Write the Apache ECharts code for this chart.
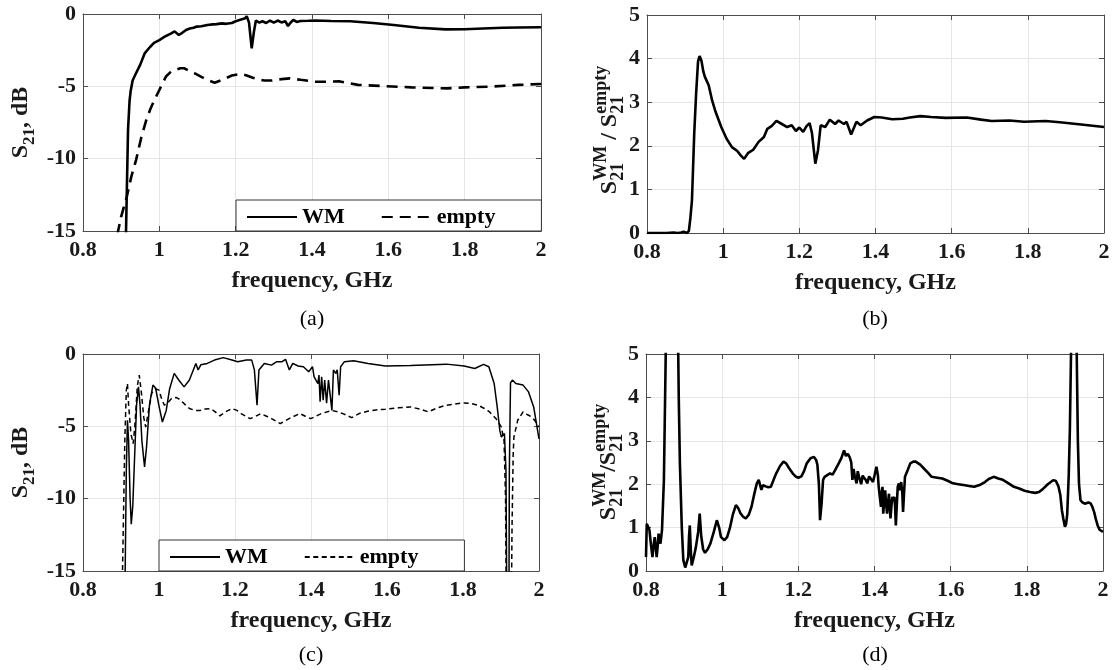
<!DOCTYPE html>
<html><head><meta charset="utf-8">
<script src="https://cdn.jsdelivr.net/npm/echarts@6/dist/echarts.min.js"></script>
<style>html,body{margin:0;padding:0;background:#fff}#c{width:1113px;height:670px}</style>
</head><body><div id="c"></div>
<script>
// ---------------- DATA ----------------
const freqTicks = [0.8, 1, 1.2, 1.4, 1.6, 1.8, 2];
const legendNames = ['WM', 'empty'];
const captions = ['(a)', '(b)', '(c)', '(d)'];

// (a) S21 measured, waveguide with metamaterial (WM) and empty
const fA_WM = [0.8,0.905,0.912,0.915,0.918,0.922,0.925,0.93,0.937,0.95,0.962,0.975,0.986,1.0,1.014,1.03,1.04,1.051,1.06,1.07,1.08,1.09,1.098,1.11,1.126,1.14,1.15,1.164,1.175,1.19,1.2,1.21,1.215,1.225,1.229,1.235,1.242,1.248,1.253,1.262,1.27,1.28,1.29,1.3,1.31,1.32,1.33,1.337,1.344,1.351,1.36,1.37,1.39,1.41,1.45,1.5,1.56,1.614,1.68,1.75,1.8,1.848,1.9,1.941,2.0];
const sA_WM = [-40,-28,-16,-12,-8,-6,-5.3,-4.6,-4.2,-3.5,-2.7,-2.3,-2.0,-1.8,-1.57,-1.35,-1.2,-1.45,-1.3,-1.1,-1.0,-0.95,-0.87,-0.85,-0.76,-0.72,-0.7,-0.65,-0.68,-0.62,-0.5,-0.42,-0.55,-0.3,-0.15,-0.6,-2.37,-1.2,-0.45,-0.6,-0.5,-0.62,-0.45,-0.6,-0.45,-0.58,-0.5,-0.83,-0.6,-0.4,-0.55,-0.48,-0.47,-0.45,-0.48,-0.5,-0.62,-0.76,-0.95,-1.06,-1.05,-1.0,-0.95,-0.93,-0.92];
const fA_E = [0.8,0.88,0.892,0.9,0.915,0.927,0.939,0.953,0.965,0.976,0.988,1.0,1.01,1.018,1.03,1.042,1.055,1.065,1.08,1.093,1.11,1.126,1.145,1.16,1.173,1.19,1.201,1.215,1.229,1.245,1.257,1.275,1.295,1.32,1.342,1.37,1.408,1.44,1.473,1.52,1.586,1.661,1.72,1.754,1.8,1.867,1.941,2.0];
const sA_E = [-30,-18,-15,-14,-12.6,-11.2,-10.1,-8.5,-7.4,-6.6,-5.9,-5.25,-4.7,-4.3,-4.0,-3.87,-3.75,-3.75,-3.95,-4.1,-4.35,-4.56,-4.75,-4.6,-4.45,-4.25,-4.2,-4.15,-4.25,-4.4,-4.5,-4.6,-4.6,-4.5,-4.45,-4.55,-4.68,-4.68,-4.66,-4.9,-4.98,-5.07,-5.12,-5.14,-5.07,-5.02,-4.9,-4.84];

// (b) ratio S21(WM)/S21(empty)
const fB = [0.8,0.85,0.87,0.873,0.88,0.89,0.896,0.905,0.91,0.914,0.918,0.921,0.924,0.929,0.934,0.938,0.943,0.948,0.952,0.962,0.971,0.98,0.995,1.009,1.023,1.037,1.046,1.055,1.065,1.079,1.093,1.107,1.116,1.127,1.14,1.154,1.168,1.18,1.191,1.2,1.21,1.219,1.227,1.233,1.242,1.249,1.256,1.268,1.28,1.294,1.303,1.317,1.324,1.336,1.35,1.361,1.378,1.397,1.416,1.444,1.472,1.49,1.518,1.546,1.584,1.64,1.677,1.705,1.752,1.79,1.846,1.884,1.94,2.0];
const rB = [0,0,0.01,0.03,0,0.01,0.03,0,0.05,0.35,0.74,1.5,2.28,3.2,3.93,4.06,3.95,3.7,3.58,3.39,3.04,2.78,2.43,2.16,1.97,1.88,1.78,1.70,1.83,1.91,2.09,2.2,2.39,2.45,2.57,2.5,2.43,2.47,2.34,2.42,2.32,2.45,2.52,2.3,1.59,1.9,2.47,2.43,2.6,2.5,2.58,2.5,2.55,2.26,2.55,2.47,2.58,2.66,2.65,2.61,2.62,2.65,2.68,2.66,2.64,2.65,2.6,2.57,2.58,2.55,2.57,2.54,2.49,2.43];

// (c) S21 simulated, WM and empty
const fC_WM = [0.8,0.905,0.911,0.914,0.917,0.92,0.924,0.927,0.931,0.936,0.941,0.946,0.95,0.955,0.962,0.967,0.975,0.984,0.991,1.0,1.009,1.019,1.028,1.04,1.052,1.066,1.08,1.097,1.103,1.11,1.127,1.146,1.169,1.192,1.207,1.23,1.244,1.251,1.258,1.263,1.277,1.296,1.31,1.324,1.333,1.343,1.352,1.366,1.38,1.394,1.404,1.408,1.418,1.421,1.424,1.428,1.432,1.436,1.441,1.446,1.451,1.455,1.459,1.465,1.469,1.474,1.478,1.488,1.512,1.55,1.596,1.662,1.756,1.803,1.831,1.854,1.868,1.882,1.89,1.897,1.901,1.909,1.913,1.916,1.92,1.922,1.925,1.93,1.939,1.958,1.972,1.986,2.0];
const sC_WM = [-40,-25,-15,-8,-4.58,-6,-10,-11.76,-10.5,-7,-3.5,-2.27,-3.5,-6,-7.8,-6.5,-3.5,-2.15,-2.35,-3.6,-4.7,-3.9,-2.4,-1.34,-1.8,-2.27,-1.8,-0.65,-1.1,-0.75,-0.65,-0.42,-0.25,-0.42,-0.53,-0.42,-0.42,-1.1,-3.54,-1.1,-0.65,-0.77,-0.53,-0.53,-0.37,-1.1,-0.65,-0.83,-0.88,-1.23,-0.88,-1.57,-2.04,-1.46,-3.3,-1.57,-3.2,-1.8,-3.4,-1.8,-2.96,-3.9,-1.1,-1.34,-1.1,-2.85,-0.88,-0.53,-0.46,-0.65,-0.83,-0.79,-0.7,-0.83,-1.0,-0.72,-0.88,-2.04,-3.66,-5.3,-5.74,-5.5,-8,-20,-25,-8,-2.0,-1.8,-2.04,-2.15,-2.6,-3.66,-5.86];
const fC_E = [0.8,0.9,0.904,0.91,0.914,0.917,0.92,0.926,0.932,0.937,0.943,0.948,0.953,0.96,0.965,0.972,0.981,0.99,1.0,1.007,1.014,1.022,1.033,1.045,1.052,1.065,1.08,1.095,1.108,1.122,1.136,1.148,1.16,1.175,1.192,1.205,1.216,1.24,1.255,1.268,1.283,1.296,1.319,1.333,1.347,1.371,1.385,1.399,1.413,1.427,1.455,1.47,1.484,1.507,1.528,1.549,1.575,1.596,1.63,1.662,1.685,1.709,1.73,1.756,1.78,1.803,1.82,1.84,1.855,1.868,1.887,1.901,1.908,1.912,1.915,1.925,1.929,1.932,1.934,1.944,1.958,1.97,1.981,1.992,2.0];
const sC_E = [-40,-22,-15,-6,-2.5,-2.04,-3.5,-5.5,-6.2,-4.8,-2.2,-1.46,-2.5,-4.4,-5.05,-4.0,-2.7,-2.4,-2.5,-3.1,-3.54,-3.4,-3.08,-3.0,-3.1,-3.4,-3.77,-3.9,-3.9,-3.8,-3.77,-4.0,-4.28,-4.0,-3.77,-3.9,-4.12,-4.47,-4.3,-4.12,-4.3,-4.47,-4.81,-4.6,-4.4,-4.12,-4.3,-4.47,-4.3,-4.12,-3.9,-4.0,-4.12,-4.4,-4.1,-3.96,-3.85,-3.82,-3.72,-3.66,-3.8,-4.0,-3.75,-3.54,-3.45,-3.38,-3.42,-3.54,-3.75,-3.96,-4.47,-5.05,-6.0,-10,-22,-25,-12,-7,-5.74,-4.58,-4.0,-4.2,-4.35,-4.7,-5.05];

// (d) simulated ratio
const fD = [0.8,0.802,0.806,0.809,0.813,0.817,0.82,0.823,0.826,0.828,0.831,0.833,0.836,0.838,0.842,0.847,0.851,0.855,0.87,0.882,0.886,0.889,0.894,0.898,0.903,0.907,0.911,0.913,0.915,0.918,0.92,0.925,0.931,0.937,0.941,0.945,0.95,0.955,0.962,0.969,0.978,0.986,0.992,0.997,1.006,1.013,1.02,1.028,1.036,1.042,1.048,1.055,1.062,1.07,1.077,1.085,1.091,1.096,1.1,1.103,1.107,1.114,1.121,1.128,1.135,1.142,1.152,1.161,1.168,1.175,1.185,1.194,1.2,1.208,1.215,1.222,1.232,1.241,1.247,1.25,1.254,1.257,1.261,1.265,1.269,1.283,1.29,1.297,1.306,1.313,1.32,1.325,1.33,1.335,1.339,1.342,1.345,1.348,1.353,1.356,1.36,1.365,1.369,1.372,1.377,1.381,1.386,1.391,1.396,1.4,1.405,1.409,1.411,1.414,1.417,1.419,1.421,1.423,1.426,1.428,1.431,1.433,1.436,1.438,1.442,1.445,1.447,1.45,1.452,1.454,1.456,1.459,1.461,1.464,1.466,1.468,1.47,1.473,1.475,1.477,1.48,1.487,1.494,1.502,1.508,1.52,1.531,1.542,1.55,1.565,1.578,1.592,1.606,1.62,1.634,1.648,1.662,1.676,1.69,1.7,1.713,1.725,1.737,1.75,1.766,1.78,1.794,1.808,1.822,1.832,1.841,1.855,1.869,1.876,1.883,1.888,1.892,1.896,1.9,1.903,1.906,1.91,1.913,1.916,1.92,1.927,1.931,1.934,1.937,1.941,1.946,1.952,1.962,1.968,1.972,1.977,1.981,1.986,1.991,2.0];
const rD = [0.32,1.09,1.05,0.95,0.6,0.32,0.6,0.78,0.5,0.32,0.6,0.86,0.7,0.63,0.94,2.09,4.5,7,12,7,4.0,2.48,1.0,0.25,0.08,0.2,0.32,0.8,1.05,0.4,0.13,0.3,0.55,0.9,1.32,0.8,0.5,0.42,0.5,0.63,0.9,1.17,1.0,0.78,0.71,0.78,0.98,1.3,1.52,1.45,1.33,1.25,1.21,1.3,1.48,1.8,2.02,2.1,2.13,1.87,1.98,1.95,1.93,1.94,2.1,2.25,2.42,2.52,2.48,2.38,2.25,2.17,2.15,2.18,2.3,2.48,2.6,2.63,2.55,2.45,2.0,1.17,1.55,2.1,2.17,2.25,2.22,2.33,2.48,2.6,2.78,2.65,2.7,2.62,2.5,2.1,2.35,2.2,2.02,2.3,2.15,2.0,2.2,2.15,2.1,2.02,2.18,2.15,2.05,2.2,2.4,2.2,1.94,1.9,1.48,1.8,1.94,1.32,1.7,1.86,1.5,1.32,1.6,1.78,1.21,1.55,1.71,1.6,1.71,1.5,1.05,1.6,1.94,2.02,1.86,1.94,2.05,1.8,1.36,1.7,2.17,2.32,2.48,2.52,2.52,2.45,2.35,2.25,2.17,2.15,2.13,2.08,2.02,2.0,1.98,1.96,1.94,1.98,2.05,2.12,2.17,2.13,2.1,2.03,1.94,1.9,1.85,1.82,1.8,1.82,1.88,2.0,2.09,2.08,1.95,1.75,1.4,1.2,1.02,1.08,1.3,2.2,3.25,5.0,10,10,5,3.0,2.0,1.63,1.58,1.55,1.58,1.55,1.48,1.35,1.2,1.05,0.95,0.9];

// ---------------- LAYOUT / STYLE ----------------
const zip = (xs, ys) => xs.map((x, i) => [x, ys[i]]);
const SERIF = '"Liberation Serif", "Times New Roman", serif';
const AX = '#4d4d4d', TXT = '#1a1a1a', GRIDC = '#e6e6e6';
const grids = [
  {left: 83, top: 14, width: 458, height: 217},
  {left: 647, top: 15, width: 457, height: 218},
  {left: 83, top: 354, width: 456, height: 217},
  {left: 646, top: 354, width: 457, height: 217}
];
const yRanges = [[-15, 0, 5], [0, 5, 1], [-15, 0, 5], [0, 5, 1]];

const xAxes = [], yAxes = [];
grids.forEach((g, gi) => {
  xAxes.push({
    type: 'value', gridIndex: gi, min: freqTicks[0], max: freqTicks[freqTicks.length - 1], interval: 0.2,
    axisLine: {show: true, onZero: false, lineStyle: {color: AX, width: 1}},
    axisTick: {show: true, inside: true, length: 5, lineStyle: {color: AX}},
    axisLabel: {fontFamily: SERIF, fontWeight: 'bold', fontSize: 22, color: TXT, margin: 8,
      formatter: v => String(parseFloat(v.toFixed(1)))},
    splitLine: {show: true, lineStyle: {color: GRIDC, width: 1}},
    name: 'frequency, GHz', nameLocation: 'middle', nameGap: 38,
    nameTextStyle: {fontFamily: SERIF, fontWeight: 'bold', fontSize: 24, color: TXT}
  });
  xAxes.push({
    type: 'value', gridIndex: gi, position: 'top', min: freqTicks[0], max: freqTicks[freqTicks.length - 1], interval: 0.2,
    axisLine: {show: true, onZero: false, lineStyle: {color: AX, width: 1}},
    axisTick: {show: true, inside: true, length: 5, lineStyle: {color: AX}},
    axisLabel: {show: false}, splitLine: {show: false}
  });
  const [mn, mx, it] = yRanges[gi];
  yAxes.push({
    type: 'value', gridIndex: gi, min: mn, max: mx, interval: it,
    axisLine: {show: true, onZero: false, lineStyle: {color: AX, width: 1}},
    axisTick: {show: true, inside: true, length: 5, lineStyle: {color: AX}},
    axisLabel: {fontFamily: SERIF, fontWeight: 'bold', fontSize: 22, color: TXT, margin: 7},
    splitLine: {show: true, lineStyle: {color: GRIDC, width: 1}}
  });
  yAxes.push({
    type: 'value', gridIndex: gi, position: 'right', min: mn, max: mx, interval: it,
    axisLine: {show: true, onZero: false, lineStyle: {color: AX, width: 1}},
    axisTick: {show: true, inside: true, length: 5, lineStyle: {color: AX}},
    axisLabel: {show: false}, splitLine: {show: false}
  });
});

function line(name, gi, xs, ys, width, type) {
  return {
    name: name, type: 'line', xAxisIndex: 2 * gi, yAxisIndex: 2 * gi,
    data: zip(xs, ys), symbol: 'none', clip: true, silent: true,
    lineStyle: {color: '#000', width: width, type: type}, itemStyle: {color: '#000'}
  };
}
const series = [
  line('WM_a', 0, fA_WM, sA_WM, 2.6, 'solid'),
  line('empty_a', 0, fA_E, sA_E, 2.6, [11, 7]),
  line('ratio_b', 1, fB, rB, 2.6, 'solid'),
  line('WM_c', 2, fC_WM, sC_WM, 1.5, 'solid'),
  line('empty_c', 2, fC_E, sC_E, 1.5, [5, 3.5]),
  line('ratio_d', 3, fD, rD, 2.6, 'solid')
];

function legendAt(left, top, suffix) {
  return {
    left: left, top: top, orient: 'horizontal', selectedMode: false,
    data: legendNames.map(n => n + suffix),
    formatter: n => n.split('_')[0],
    itemWidth: 50, itemHeight: 14, itemGap: 36,
    itemStyle: {opacity: 0, borderWidth: 0},
    padding: [6, 46, 3, 10],
    borderColor: '#333', borderWidth: 1, borderRadius: 0, backgroundColor: '#fff',
    textStyle: {fontFamily: SERIF, fontWeight: 'bold', fontSize: 22, color: '#000'}
  };
}

// ----- rotated y-axis titles with sub/superscripts -----
const cv = document.createElement('canvas').getContext('2d');
function tw(t, size) { cv.font = 'bold ' + size + 'px "Liberation Serif"'; return cv.measureText(t).width; }
function yTitle(cx, cy, parts) {
  let widths = parts.map(p => p.t !== undefined ? tw(p.t, p.size)
    : Math.max(p.sup ? tw(p.sup, p.size) : 0, p.sub ? tw(p.sub, p.size) : 0));
  const total = widths.reduce((a, b) => a + b, 0);
  let x = -total / 2;
  const children = [];
  const mk = (t, size, px, py) => ({type: 'text', x: px, y: py, silent: true,
    style: {text: t, fontFamily: SERIF, fontWeight: 'bold', fontSize: size, fill: TXT, align: 'left', verticalAlign: 'middle'}});
  parts.forEach((p, i) => {
    if (p.t !== undefined) children.push(mk(p.t, p.size, x, 0));
    else {
      if (p.sup) children.push(mk(p.sup, p.size, x, -p.off));
      if (p.sub) children.push(mk(p.sub, p.size, x, p.off));
    }
    x += widths[i];
  });
  return {type: 'group', x: cx, y: cy, rotation: Math.PI / 2, children: children};
}
function caption(t, cx, cy) {
  return {type: 'text', x: cx, y: cy, silent: true,
    style: {text: t, fontFamily: SERIF, fontSize: 22, fill: '#000', align: 'center', verticalAlign: 'middle'}};
}

const graphics = [
  yTitle(21, 122.5, [{t: 'S', size: 24}, {sub: '21', size: 17, off: 9}, {t: ', dB', size: 24}]),
  yTitle(21, 462.5, [{t: 'S', size: 24}, {sub: '21', size: 17, off: 9}, {t: ', dB', size: 24}]),
  yTitle(610, 130, [{t: 'S', size: 24}, {sup: 'WM', sub: '21', size: 18, off: 8.5}, {t: ' / ', size: 24}, {t: 'S', size: 24}, {sup: 'empty', sub: '21', size: 18, off: 8.5}]),
  yTitle(609, 462, [{t: 'S', size: 24}, {sup: 'WM', sub: '21', size: 18, off: 8.5}, {t: '/', size: 24}, {t: 'S', size: 24}, {sup: 'empty', sub: '21', size: 18, off: 8.5}]),
  caption(captions[0], 312, 319),
  caption(captions[1], 875, 319),
  caption(captions[2], 311, 655),
  caption(captions[3], 875, 655)
];

const chart = echarts.init(document.getElementById('c'), null, {renderer: 'canvas'});
chart.setOption({
  animation: false,
  backgroundColor: '#fff',
  grid: grids.map(g => Object.assign({containLabel: false, show: false}, g)),
  xAxis: xAxes,
  yAxis: yAxes,
  legend: [legendAt(236, 200, '_a'), legendAt(159, 540, '_c')],
  series: series,
  graphic: graphics
});
</script></body></html>
